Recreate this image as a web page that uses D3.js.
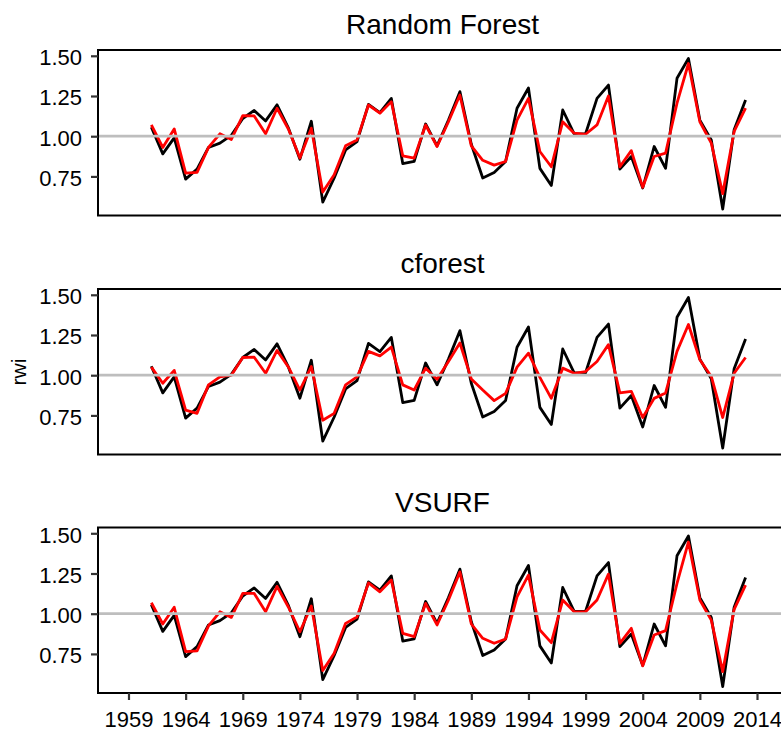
<!DOCTYPE html>
<html>
<head>
<meta charset="utf-8">
<script src="https://cdn.jsdelivr.net/npm/d3@7/dist/d3.min.js"></script>
<style>
  html, body { margin: 0; padding: 0; background: #fff; }
  svg { display: block; font-family: "Liberation Sans", Arial, sans-serif; }
</style>
</head>
<body>
<svg id="chart" width="781" height="731"></svg>
<script>
const years = d3.range(1961, 2014);
const observed = [1.056,0.89,0.99,0.733,0.795,0.93,0.957,1.005,1.11,1.16,1.095,1.195,1.05,0.857,1.093,0.59,0.74,0.915,0.967,1.198,1.147,1.235,0.83,0.843,1.076,0.94,
  1.10,1.277,0.95,0.74,0.775,0.843,1.174,1.30,0.80,0.694,1.163,1.015,1.015,1.235,1.318,0.795,0.874,0.678,0.936,0.80,1.36,1.483,1.10,0.977,0.547,1.04,1.225];
const rfPred = [1.07,0.93,1.045,0.77,0.775,0.93,1.015,0.98,1.128,1.126,1.015,1.174,1.043,0.864,1.05,0.653,0.76,0.94,0.977,1.194,1.143,1.215,0.878,0.864,1.07,0.936,
  1.09,1.256,0.94,0.85,0.82,0.843,1.10,1.235,0.905,0.81,1.09,1.019,1.012,1.07,1.25,0.81,0.91,0.682,0.874,0.895,1.205,1.452,1.09,0.957,0.643,1.03,1.174];
const cforestPred = [1.05,0.95,1.03,0.783,0.763,0.94,0.99,1.0,1.11,1.112,1.012,1.154,1.05,0.908,1.054,0.72,0.763,0.94,0.99,1.148,1.12,1.175,0.94,0.908,1.044,0.975,
  1.085,1.20,0.977,0.908,0.842,0.887,1.05,1.137,0.987,0.856,1.044,1.012,1.023,1.085,1.19,0.89,0.90,0.737,0.856,0.89,1.148,1.315,1.096,0.992,0.737,1.012,1.11];
const vsurfPred = [1.068,0.936,1.04,0.764,0.769,0.924,1.012,0.977,1.126,1.126,1.012,1.17,1.04,0.888,1.048,0.647,0.754,0.94,0.98,1.192,1.136,1.209,0.878,0.857,1.064,0.93,
  1.085,1.26,0.936,0.847,0.816,0.843,1.105,1.24,0.899,0.82,1.085,1.012,1.012,1.085,1.246,0.816,0.909,0.676,0.868,0.895,1.188,1.446,1.085,0.96,0.64,1.027,1.178];
const panelTitles = ["Random Forest", "cforest", "VSURF"];
const predictions = [rfPred, cforestPred, vsurfPred];
const yTicks = [0.75, 1.00, 1.25, 1.50];
const xTicks = [1959, 1964, 1969, 1974, 1979, 1984, 1989, 1994, 1999, 2004, 2009, 2014];
const yLabel = "rwi";

const svg = d3.select("#chart");
const panelLeft = 98, panelRight = 787;
const panelTops = [50, 289, 527.5];
const panelH = 165.5;
const FONT = "'Liberation Sans', Arial, sans-serif";

const x = d3.scaleLinear().domain([1959, 2014]).range([128.5, 757]);

panelTops.forEach((top, i) => {
  const bottom = top + panelH;
  const y = d3.scaleLinear().domain([0.507, 1.536]).range([bottom, top]);
  const g = svg.append("g");

  g.append("text")
    .attr("x", (panelLeft + panelRight) / 2)
    .attr("y", top - 16)
    .attr("text-anchor", "middle")
    .attr("font-size", 28)
    .attr("fill", "#000")
    .text(panelTitles[i]);

  const line = d3.line().x((d, j) => x(years[j])).y(d => y(d));

  g.append("path").datum(observed)
    .attr("d", line).attr("fill", "none")
    .attr("stroke", "#000").attr("stroke-width", 2.8).attr("stroke-linejoin", "round");
  g.append("path").datum(predictions[i])
    .attr("d", line).attr("fill", "none")
    .attr("stroke", "#ff0000").attr("stroke-width", 2.8).attr("stroke-linejoin", "round");

  g.append("line")
    .attr("x1", panelLeft).attr("x2", panelRight)
    .attr("y1", y(1)).attr("y2", y(1))
    .attr("stroke", "#bebebe").attr("stroke-width", 2.8);

  g.append("rect")
    .attr("x", panelLeft).attr("y", top)
    .attr("width", panelRight - panelLeft).attr("height", panelH)
    .attr("fill", "none").attr("stroke", "#000").attr("stroke-width", 2);

  const ya = g.append("g").attr("transform", `translate(${panelLeft},0)`)
    .call(d3.axisLeft(y).tickValues(yTicks).tickFormat(d3.format(".2f")).tickSize(7).tickPadding(9));
  ya.select(".domain").remove();
  ya.selectAll(".tick line").attr("stroke", "#333").attr("stroke-width", 2.2);
  ya.selectAll(".tick text").attr("font-size", 22).attr("fill", "#000")
    .attr("font-family", FONT).attr("dy", "0.4em");

  if (i === 2) {
    const xa = g.append("g").attr("transform", `translate(0,${bottom})`)
      .call(d3.axisBottom(x).tickValues(xTicks).tickFormat(d3.format("d")).tickSize(7).tickPadding(11));
    xa.select(".domain").remove();
    xa.selectAll(".tick line").attr("stroke", "#333").attr("stroke-width", 2.2);
    xa.selectAll(".tick text").attr("font-size", 22).attr("fill", "#000")
      .attr("font-family", FONT);
  }
});

svg.append("text")
  .attr("transform", "translate(26,372) rotate(-90)")
  .attr("text-anchor", "middle")
  .attr("font-size", 21)
  .attr("fill", "#000")
  .text(yLabel);
</script>
</body>
</html>
